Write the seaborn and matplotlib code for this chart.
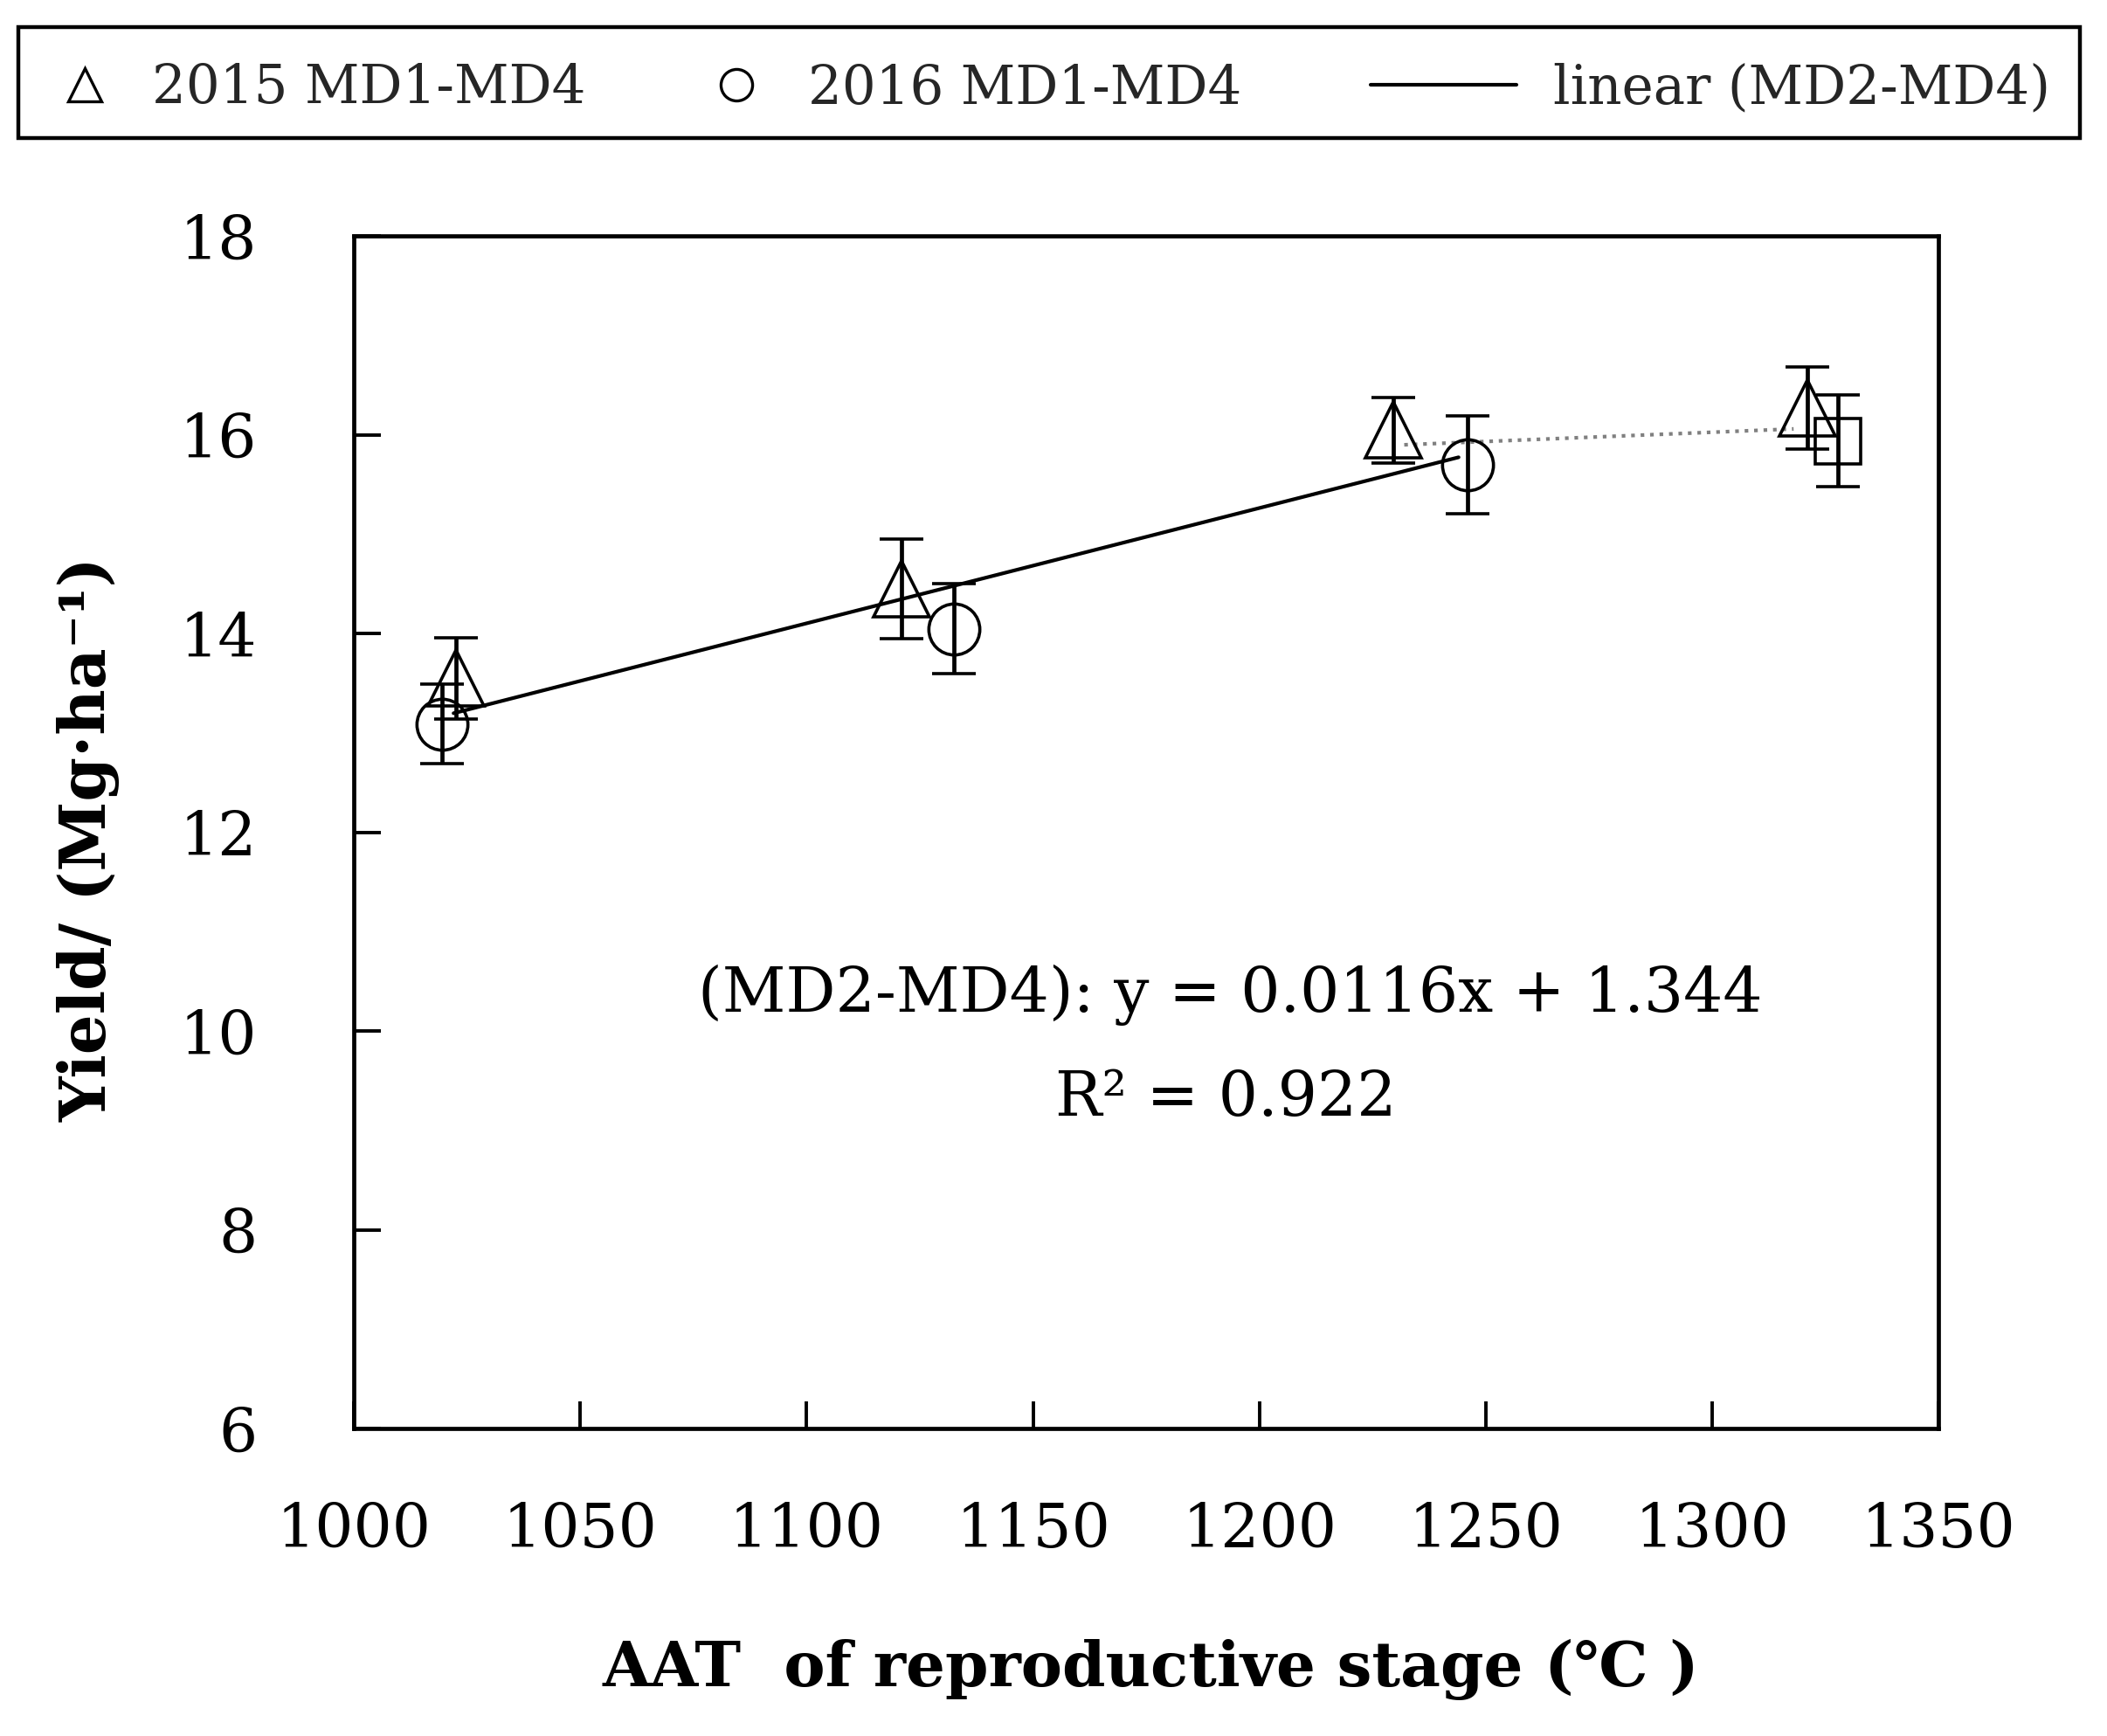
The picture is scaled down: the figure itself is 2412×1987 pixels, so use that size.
import matplotlib
matplotlib.use("Agg")
import matplotlib.pyplot as plt
from matplotlib.lines import Line2D
from matplotlib.patches import Rectangle
import seaborn as sns
import pandas as pd

# ---- data ----
x2015 = [1022.5, 1121.0, 1229.5, 1321.0]
y2015 = [13.55, 14.45, 16.05, 16.27]
e2015 = [0.41, 0.50, 0.33, 0.41]

x2016 = [1019.5, 1132.5, 1246.0]
y2016 = [13.09, 14.05, 15.70]
e2016 = [0.40, 0.45, 0.49]

x_sq = [1327.8]
y_sq = [15.94]
e_sq = [0.46]

fit_x = [1022.0, 1244.0]
slope = 0.0116
intercept = 1.344
r2 = 0.922

dot_x = [1232.0, 1318.0]
dot_y = [15.90, 16.06]

xticks = [1000, 1050, 1100, 1150, 1200, 1250, 1300, 1350]
yticks = [6, 8, 10, 12, 14, 16, 18]

legend_labels = ["2015 MD1-MD4", "2016 MD1-MD4", "linear (MD2-MD4)"]
eq_text = "(MD2-MD4): y = 0.0116x + 1.344"
r2_text = "R\u00b2 = 0.922"
xlabel = "AAT  of reproductive stage (\u2103 )"
ylabel = "Yield/ (Mg\u00b7ha\u207b\u00b9)"

# ---- style ----
sns.set_theme(style="white")
plt.rcParams["font.family"] = ["DejaVu Serif", "DejaVu Sans"]
plt.rcParams["mathtext.fontset"] = "dejavuserif"

fig = plt.figure(figsize=(12.06, 9.935), dpi=200)
ax = fig.add_axes([0.168, 0.177, 0.752, 0.687])

fit_df = pd.DataFrame({"x": fit_x, "y": [slope * v + intercept for v in fit_x]})
dot_df = pd.DataFrame({"x": dot_x, "y": dot_y})

sns.lineplot(data=fit_df, x="x", y="y", ax=ax, color="black", lw=1.5, zorder=2)
sns.lineplot(data=dot_df, x="x", y="y", ax=ax, color="#808080", lw=1.5,
             linestyle=(0, (1, 1.6)), zorder=2)

ebkw = dict(ecolor="black", elinewidth=1.7, capsize=9, capthick=1.8, ls="none",
            mfc="none", mec="black", zorder=3)
ax.errorbar(x2015, y2015, yerr=e2015, fmt="^", ms=23, mew=1.3, **ebkw)
ax.errorbar(x2016, y2016, yerr=e2016, fmt="o", ms=21, mew=1.3, **ebkw)
ax.errorbar(x_sq, y_sq, yerr=e_sq, fmt="s", ms=19, mew=1.3, **ebkw)

ax.text(1193.5, 10.2, eq_text, ha="center", va="baseline", fontsize=25.6, color="black")
ax.text(1192.5, 9.15, r2_text, ha="center", va="baseline", fontsize=25.6, color="black")

ax.set_xlim(1000, 1350)
ax.set_ylim(6, 18)
ax.set_xticks(xticks)
ax.set_yticks(yticks)
ax.set_xticklabels([str(v) for v in xticks])
ax.set_yticklabels([str(v) for v in yticks])
ax.tick_params(axis="both", direction="in", length=11, width=1.4, colors="black",
               labelsize=25, bottom=True, left=True)
ax.tick_params(axis="x", pad=30)
ax.tick_params(axis="y", pad=40)
for sp in ax.spines.values():
    sp.set_color("black")
    sp.set_linewidth(1.7)

ax.set_xlabel(xlabel, fontsize=25.5, fontweight="bold", color="black")
ax.xaxis.set_label_coords(0.503, -0.176)
ax.set_ylabel(ylabel, fontsize=26, fontweight="bold", color="black")
ax.yaxis.set_label_coords(-0.1475, 0.4945)

# ---- legend: framed strip with three entries ----
fig.add_artist(Rectangle((0.0087, 0.9205), 0.9783, 0.064, transform=fig.transFigure,
                         facecolor="white", edgecolor="black", lw=1.6, zorder=5))
handles = [
    Line2D([], [], marker="^", ls="none", mfc="none", mec="black", ms=14, mew=1.2),
    Line2D([], [], marker="o", ls="none", mfc="none", mec="black", ms=13, mew=1.2),
    Line2D([], [], color="black", lw=1.5),
]
entry_x = [0.016, 0.323, 0.6506]
entry_hl = [1.92, 2.08, 2.73]
entry_tp = [0.30, 0.30, 0.68]
for h, lab, ex, hl, tp in zip(handles, legend_labels, entry_x, entry_hl, entry_tp):
    lg = fig.legend([h], [lab], loc="center left", bbox_to_anchor=(ex, 0.949),
                    frameon=False, fontsize=22, borderpad=0, borderaxespad=0,
                    handlelength=hl, handletextpad=tp)
    lg.set_zorder(6)

fig.savefig("out.png", dpi=200, facecolor="white")
